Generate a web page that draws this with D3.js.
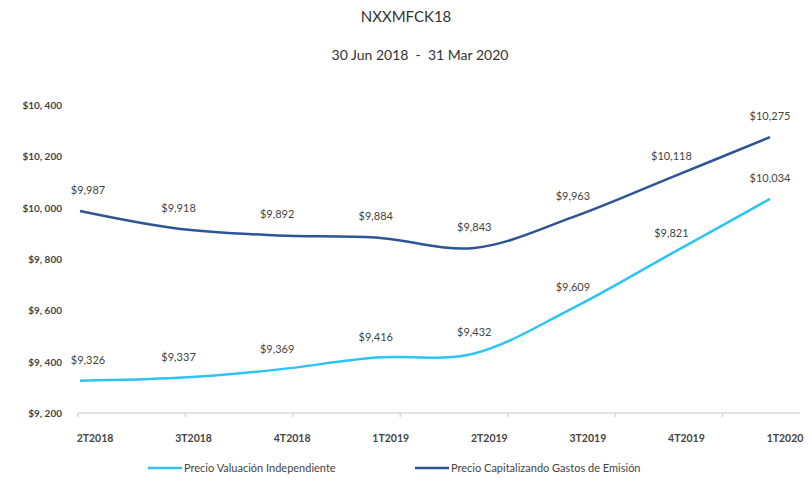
<!DOCTYPE html>
<html>
<head>
<meta charset="utf-8">
<script src="https://cdn.jsdelivr.net/npm/d3@7"></script>
<style>
  body { margin: 0; background: #fff; }
  text { font-family: Lato, "Open Sans", sans-serif; }
</style>
</head>
<body>
<svg width="812" height="483"></svg>
<script>
// quarters on the x axis
var quarters = ["2T2018", "3T2018", "4T2018", "1T2019", "2T2019", "3T2019", "4T2019", "1T2020"];
// Precio Valuación Independiente
var valuacion = [9326, 9337, 9369, 9416, 9432, 9609, 9821, 10034];
// Precio Capitalizando Gastos de Emisión
var capitalizando = [9987, 9918, 9892, 9884, 9843, 9963, 10118, 10275];
var yTicks = [9200, 9400, 9600, 9800, 10000, 10200, 10400];

var series = [
    { name: "Precio Valuación Independiente", values: valuacion, color: "#2cc4f4" },
    { name: "Precio Capitalizando Gastos de Emisión", values: capitalizando, color: "#2c5597" }
];

var svg = d3.select("svg");
var fmt = d3.format("$,");

var x = d3.scalePoint().domain(quarters).range([80, 770]);
var y = d3.scaleLinear().domain([9200, 10400]).range([413, 105]);
// tick marks of the category axis (spacing differs from the points)
var xTick = d3.scaleLinear().domain([0, 7]).range([78, 830]);

// titles
svg.append("text").attr("x", 406).attr("y", 22)
    .attr("text-anchor", "middle").attr("font-size", 15).attr("fill", "#333")
    .text("NXXMFCK18");
svg.append("text").attr("x", 420).attr("y", 60)
    .attr("text-anchor", "middle").attr("font-size", 14).attr("fill", "#333")
    .attr("xml:space", "preserve")
    .text("30 Jun 2018  -  31 Mar 2020");

// y axis labels
svg.append("g").selectAll("text").data(yTicks).enter().append("text")
    .attr("x", 62).attr("y", d => y(d) + 4)
    .attr("text-anchor", "end").attr("font-size", 10).attr("font-weight", "bold")
    .attr("fill", "#444")
    .text(d => fmt(d).replace(",", ", "));

// baseline + tick marks
svg.append("line").attr("x1", 78).attr("x2", 800)
    .attr("y1", y(9200)).attr("y2", y(9200))
    .attr("stroke", "#d9d9d9").attr("stroke-width", 1.5);
svg.append("g").selectAll("line").data(d3.range(7)).enter().append("line")
    .attr("x1", d => xTick(d)).attr("x2", d => xTick(d))
    .attr("y1", y(9200)).attr("y2", y(9200) + 4)
    .attr("stroke", "#d9d9d9").attr("stroke-width", 1.5);

// x labels
svg.append("g").selectAll("text").data(quarters).enter().append("text")
    .attr("x", d => x(d) + 15).attr("y", 442)
    .attr("text-anchor", "middle").attr("font-size", 10.5).attr("font-weight", "bold")
    .attr("fill", "#444")
    .text(d => d);

var lineMaker = d3.line()
    .x((d, i) => x(quarters[i]))
    .y(d => y(d))
    .curve(d3.curveCardinal.tension(0));

series.forEach(function (s) {
    svg.append("path")
        .attr("fill", "none").attr("stroke", s.color).attr("stroke-width", 2.5)
        .attr("d", lineMaker(s.values));
    svg.append("g").selectAll("text").data(s.values).enter().append("text")
        .attr("x", (d, i) => x(quarters[i]) + (i === 0 ? 8 : 0))
        .attr("y", d => y(d) - 17)
        .attr("text-anchor", "middle").attr("font-size", 11).attr("fill", "#444")
        .text(d => fmt(d));
});

// legend
var legX = [148, 415];
series.forEach(function (s, i) {
    svg.append("line").attr("x1", legX[i]).attr("x2", legX[i] + 34)
        .attr("y1", 468).attr("y2", 468)
        .attr("stroke", s.color).attr("stroke-width", 2.5);
    svg.append("text").attr("x", legX[i] + 36).attr("y", 472)
        .attr("font-size", 11).attr("fill", "#444")
        .text(s.name);
});
</script>
</body>
</html>
